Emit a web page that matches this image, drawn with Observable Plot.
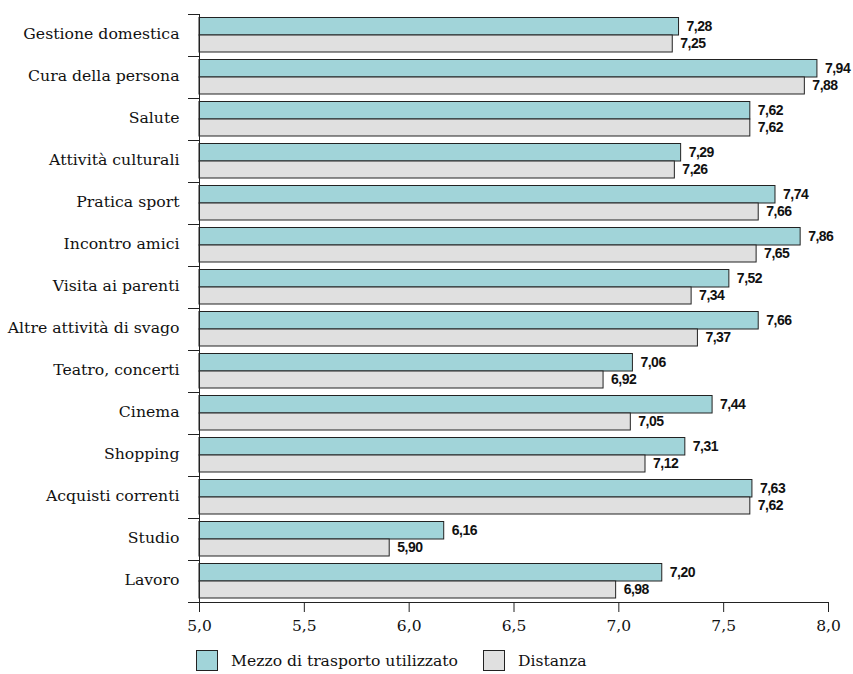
<!DOCTYPE html>
<html>
<head>
<meta charset="utf-8">
<script src="https://cdn.jsdelivr.net/npm/d3@7"></script>
<script src="https://cdn.jsdelivr.net/npm/@observablehq/plot@0.6"></script>
<style>
  html, body { margin: 0; padding: 0; background: #fff; }
  #chart { width: 853px; }
  #chart svg g[aria-label="text"] text { letter-spacing: -0.5px; }
  .legend { position: relative; height: 32px; font-family: "DejaVu Serif", serif; font-size: 15.6px; color: #111; }
  .legend .item { position: absolute; top: 8px; display: flex; align-items: center; }
  .legend .sw { width: 20px; height: 19px; border: 1px solid #222; margin-right: 13px; }
</style>
</head>
<body>
<div id="chart"></div>
<script>
const categories = [
  "Gestione domestica", "Cura della persona", "Salute", "Attività culturali",
  "Pratica sport", "Incontro amici", "Visita ai parenti", "Altre attività di svago",
  "Teatro, concerti", "Cinema", "Shopping", "Acquisti correnti", "Studio", "Lavoro"
];
const mezzo =    [7.28, 7.94, 7.62, 7.29, 7.74, 7.86, 7.52, 7.66, 7.06, 7.44, 7.31, 7.63, 6.16, 7.20];
const distanza = [7.25, 7.88, 7.62, 7.26, 7.66, 7.65, 7.34, 7.37, 6.92, 7.05, 7.12, 7.62, 5.90, 6.98];
const xTicks = [5.0, 5.5, 6.0, 6.5, 7.0, 7.5, 8.0];
const seriesNames = ["Mezzo di trasporto utilizzato", "Distanza"];
const seriesColors = ["#a1d4d9", "#e0e0e0"];

const fmt = v => v.toFixed(2).replace(".", ",");
const tickFmt = v => v.toFixed(1).replace(".", ",");
const rowsA = categories.map((c, i) => ({cat: c, value: mezzo[i]}));
const rowsB = categories.map((c, i) => ({cat: c, value: distanza[i]}));

const band = 42;
const half = band / 2;
const labelFont = "'Liberation Sans', Arial, sans-serif";

const chart = Plot.plot({
  width: 853,
  height: 642,
  marginTop: 14,
  marginBottom: 40,
  marginLeft: 199,
  marginRight: 25,
  style: {fontFamily: "'DejaVu Serif', serif", fontSize: "15px", color: "#111", background: "#fff"},
  x: {domain: [5, 8], label: null},
  y: {domain: categories, padding: 0, label: null},
  marks: [
    Plot.barX(rowsA, {y: "cat", x1: 5, x2: "value", fill: seriesColors[0], stroke: "#222", strokeWidth: 1, insetTop: 3.5, insetBottom: 21, insetRight: -1.5}),
    Plot.barX(rowsB, {y: "cat", x1: 5, x2: "value", fill: seriesColors[1], stroke: "#222", strokeWidth: 1, insetTop: 21, insetBottom: 4, insetRight: -1.5}),
    Plot.text(rowsA, {y: "cat", x: "value", text: d => fmt(d.value), dy: -8.5, dx: 9, textAnchor: "start", fontFamily: labelFont, fontWeight: "bold", fontSize: 14, fill: "#111"}),
    Plot.text(rowsB, {y: "cat", x: "value", text: d => fmt(d.value), dy: 8.5, dx: 9, textAnchor: "start", fontFamily: labelFont, fontWeight: "bold", fontSize: 14, fill: "#111"}),
    Plot.ruleX([5], {stroke: "#222", strokeWidth: 1}),
    Plot.ruleY([categories[categories.length - 1]], {x1: 5, x2: 8, dy: half, stroke: "#222", strokeWidth: 1}),
    Plot.axisY({tickSize: 11, dy: -half, tickFormat: () => "", stroke: "#222", label: null}),
    Plot.axisY({ticks: [categories[categories.length - 1]], tickSize: 11, dy: half, tickFormat: () => "", stroke: "#222", label: null}),
    Plot.axisY({tickSize: 0, tickPadding: 20, dy: -1.5, fontSize: 15.7, fill: "#111", label: null}),
    Plot.axisX({ticks: xTicks, tickFormat: tickFmt, tickSize: 10, tickPadding: 7, stroke: "#222", fontSize: 15.5, fill: "#111", label: null})
  ]
});
document.getElementById("chart").appendChild(chart);

const legend = document.createElement("div");
legend.className = "legend";
const lefts = [196, 483];
seriesNames.forEach((name, i) => {
  const item = document.createElement("div");
  item.className = "item";
  item.style.left = lefts[i] + "px";
  const sw = document.createElement("div");
  sw.className = "sw";
  sw.style.background = seriesColors[i];
  const t = document.createElement("span");
  t.textContent = name;
  item.appendChild(sw);
  item.appendChild(t);
  legend.appendChild(item);
});
document.getElementById("chart").appendChild(legend);
</script>
</body>
</html>
